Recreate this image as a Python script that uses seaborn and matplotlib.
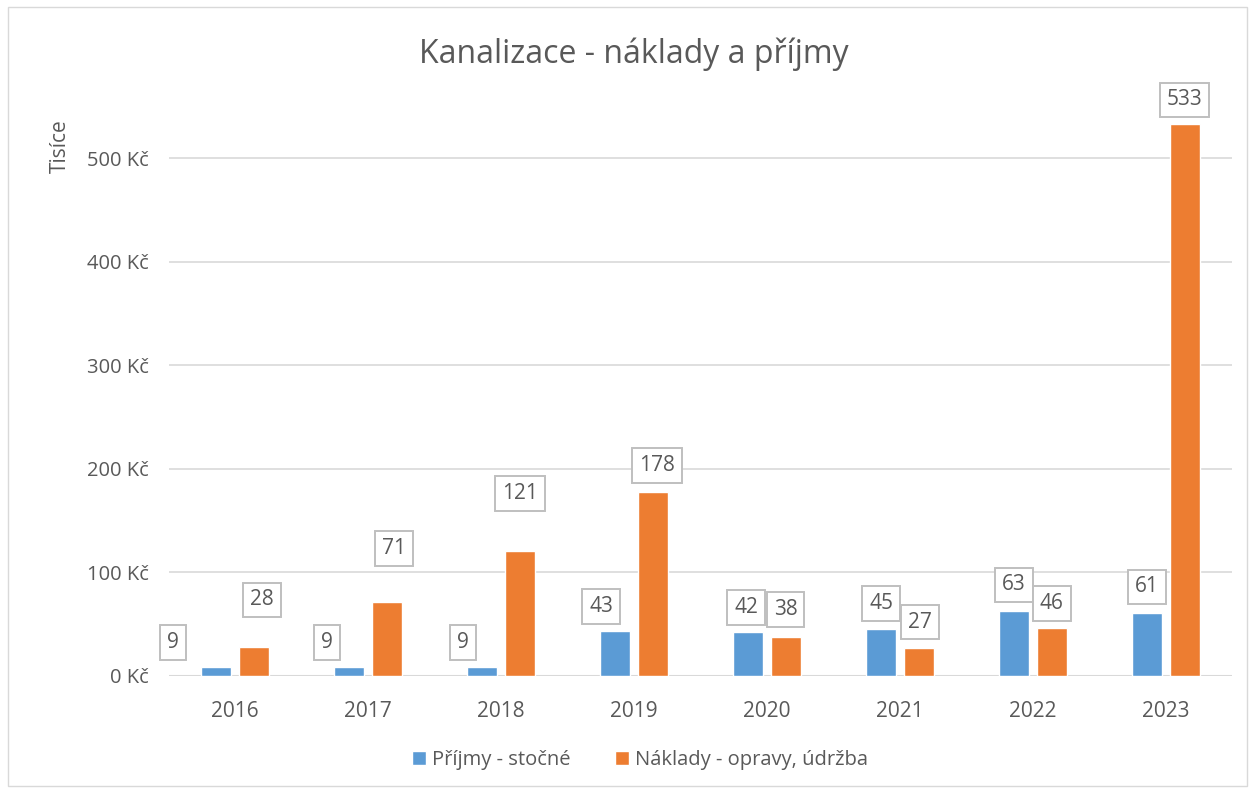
import pandas as pd
import matplotlib.pyplot as plt
import seaborn as sns
from matplotlib.patches import Rectangle

# =====================
# DATA
# =====================
years = ["2016", "2017", "2018", "2019", "2020", "2021", "2022", "2023"]
prijmy = [9, 9, 9, 43, 42, 45, 63, 61]          # Příjmy - stočné (tis. Kč)
naklady = [28, 71, 121, 178, 38, 27, 46, 533]   # Náklady - opravy, údržba (tis. Kč)
series_names = ["Příjmy - stočné", "Náklady - opravy, údržba"]
y_ticks = [0, 100, 200, 300, 400, 500]
y_ticklabels = ["0 Kč", "100 Kč", "200 Kč", "300 Kč", "400 Kč", "500 Kč"]

# label offsets in pixels (dx, dy above bar top) - mimic Excel placement
blue_off = [(-43, 24), (-22, 24), (-19, 24), (-14, 25), (-2, 25), (0, 26), (0, 26), (0, 26)]
orange_off = [(8, 47), (7, 54), (0, 57), (4, 26), (0, 27), (1, 26), (0, 25), (0, 24)]

df = pd.DataFrame({
    "rok": years * 2,
    "hodnota": prijmy + naklady,
    "serie": [series_names[0]] * len(years) + [series_names[1]] * len(years),
})

# =====================
# STYLE
# =====================
sns.set_style("white")
plt.rcParams["font.family"] = ["Open Sans", "DejaVu Sans"]
txt = "#595959"
colors = ["#5B9BD5", "#ED7D31"]

fig = plt.figure(figsize=(12.52, 7.91), dpi=100)
ax = fig.add_axes([0.1346, 0.1454, 0.8498, 0.7858])

sns.barplot(data=df, x="rok", y="hodnota", hue="serie", palette=colors,
            width=0.57, gap=0.21, saturation=1, ax=ax, legend=True)

ax.set_ylim(0, 600)
ax.set_xlim(-0.5, len(years) - 0.5)
ax.set_yticks(y_ticks)
ax.set_yticklabels(y_ticklabels, color=txt, fontsize=14.5)
ax.tick_params(axis="x", colors=txt, labelsize=15, length=0, pad=18)
ax.tick_params(axis="y", length=0, pad=14)
ax.set_xlabel("")
ax.set_ylabel("")
for t in y_ticks[1:]:
    ax.axhline(t, color="#D9D9D9", lw=1.2, zorder=0)
ax.axhline(0, color="#D9D9D9", lw=1.5, zorder=0)
for s in ax.spines.values():
    s.set_visible(False)

# data labels with boxes
px = 72 / 100
for cont, vals, offs in zip(ax.containers, [prijmy, naklady], [blue_off, orange_off]):
    for bar, v, (dx, dy) in zip(cont, vals, offs):
        cx = bar.get_x() + bar.get_width() / 2
        ax.annotate(str(v), xy=(cx, bar.get_height()), xytext=(dx * px, dy * px),
                    textcoords="offset points", ha="center", va="center",
                    fontsize=15, color=txt,
                    bbox=dict(boxstyle="square,pad=0.32", fc="white", ec="#BFBFBF", lw=1.4))

# legend
ax.legend(loc="center", bbox_to_anchor=(0.443, -0.135), ncol=2, frameon=False,
          fontsize=14.5, labelcolor=txt, handlelength=0.7, handleheight=0.7,
          handletextpad=0.3, columnspacing=2.2)

fig.text(0.506, 0.932, "Kanalizace - náklady a příjmy", ha="center", va="center",
         fontsize=23, color=txt)
fig.text(0.048, 0.815, "Tisíce", rotation=90, ha="center", va="center",
         fontsize=15, color=txt)

# chart border
fig.patches.append(Rectangle((0.006, 0.006), 0.99, 0.985, transform=fig.transFigure,
                             fill=False, ec="#D9D9D9", lw=1))

plt.savefig("out.png", dpi=100)
plt.close()
